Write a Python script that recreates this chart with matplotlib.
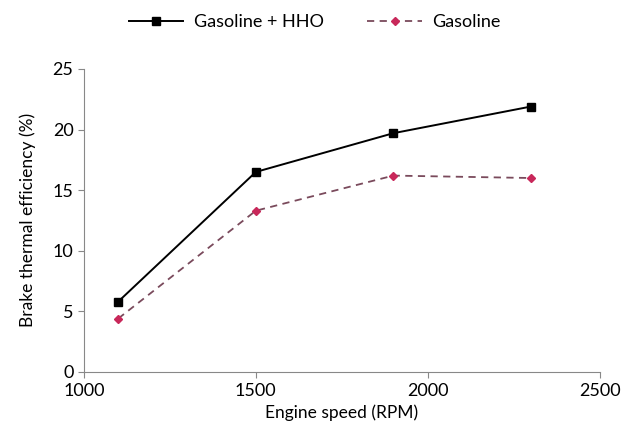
import matplotlib
matplotlib.use("Agg")
import matplotlib.pyplot as plt

# datos
rpm = [1100, 1500, 1900, 2300]
bte_hho = [5.8, 16.5, 19.7, 21.9]
bte_gasolina = [4.4, 13.3, 16.2, 16.0]

plt.rcParams['font.family'] = ['Lato', 'DejaVu Sans']

fig = plt.figure(figsize=(6.26, 4.48), dpi=100)
ax = fig.add_axes([0.134, 0.170, 0.824, 0.676])

ax.plot(rpm, bte_hho, color='black', lw=1.4, marker='s', ms=6,
        label='Gasoline + HHO')
ax.plot(rpm, bte_gasolina, color='#7a4a5c', lw=1.3, ls=(0, (4, 3)),
        marker='D', ms=4.5, mfc='#c8285a', mec='#c8285a',
        label='Gasoline')

ax.set_xlim(1000, 2500)
ax.set_ylim(0, 25)
ax.set_xticks([1000, 1500, 2000, 2500])
ax.set_yticks([0, 5, 10, 15, 20, 25])

for s in ['top', 'right']:
    ax.spines[s].set_visible(False)
for s in ['left', 'bottom']:
    ax.spines[s].set_color('#888888')
ax.tick_params(direction='out', length=4, color='#888888', labelsize=13)
ax.tick_params(axis='x', pad=4)

ax.set_xlabel('Engine speed (RPM)', fontsize=12.5, labelpad=4)
ax.set_ylabel('Brake thermal efficiency (%)', fontsize=12.5, labelpad=12)

ax.legend(loc='center', bbox_to_anchor=(0.448, 1.155), ncol=2,
          frameon=False, fontsize=13, handlelength=3.0, handletextpad=0.6,
          columnspacing=2.4)

fig.savefig('out.png', dpi=100)
